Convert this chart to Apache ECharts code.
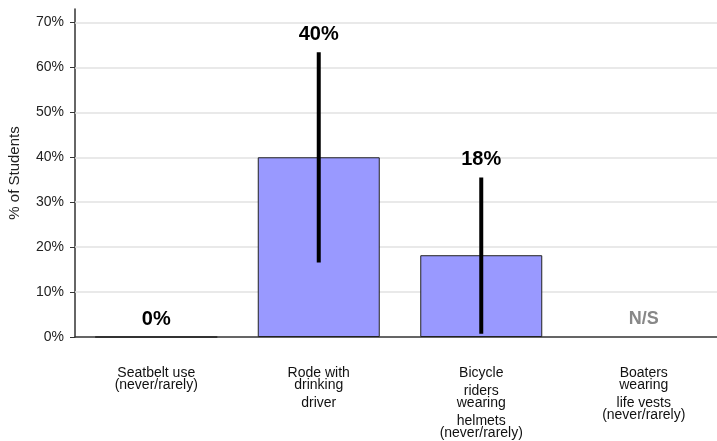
<!DOCTYPE html>
<html>
<head>
<meta charset="utf-8">
<script src="https://cdn.jsdelivr.net/npm/echarts@6/dist/echarts.min.js"></script>
<style>html,body{margin:0;padding:0;background:#fff}#c{width:717px;height:441px}</style>
</head>
<body>
<div id="c"></div>
<script>
const categories = [
  "Seatbelt use\n(never/rarely)",
  "Rode with\ndrinking\n\ndriver",
  "Bicycle\n\nriders\nwearing\n\nhelmets\n(never/rarely)",
  "Boaters\nwearing\n\nlife vests\n(never/rarely)"
];
const values = [0, 40, 18.2, null];
const errLow = [null, 16.6, 0.7, null];
const errHigh = [null, 63.4, 35.5, null];
const valueLabels = ["0%", "40%", "18%", "N/S"];
const yTicks = [0, 10, 20, 30, 40, 50, 60, 70];
const yMax = 73;

const FONT = "'Liberation Sans', Arial, sans-serif";
const chart = echarts.init(document.getElementById('c'), null, {renderer: 'canvas'});

const customData = categories.map((c, i) => [i, errLow[i], errHigh[i], values[i]]);

chart.setOption({
  animation: false,
  backgroundColor: '#fff',
  grid: {left: 75, top: 9, width: 650, height: 328, containLabel: false, outerBoundsMode: 'none'},
  xAxis: {
    type: 'category',
    data: categories,
    axisLine: {lineStyle: {color: '#333', width: 1.5}},
    axisTick: {show: false},
    axisLabel: {
      interval: 0,
      margin: 30,
      formatter: v => v.split('\n').map(l => l === '' ? '{g| }' : '{t|' + l + '}').join('\n'),
      rich: {
        t: {fontSize: 14, lineHeight: 12, fontFamily: FONT, color: '#111'},
        g: {fontSize: 6, lineHeight: 6}
      }
    }
  },
  yAxis: {
    type: 'value',
    min: 0, max: yMax, interval: 10,
    name: '% of Students',
    nameLocation: 'middle',
    nameGap: 53,
    nameRotate: 90,
    nameTextStyle: {fontSize: 15, fontFamily: FONT, color: '#222'},
    axisLine: {show: true, lineStyle: {color: '#333', width: 1.5}},
    axisTick: {show: true, length: 5, customValues: yTicks, lineStyle: {color: '#333'}},
    axisLabel: {customValues: yTicks, formatter: v => v + '%', fontSize: 14, fontFamily: FONT, color: '#222', margin: 11},
    splitLine: {show: false}
  },
  series: [
    {
      type: 'bar',
      data: values,
      barWidth: 122,
      z: 2,
      itemStyle: {color: '#9999ff', borderColor: '#222', borderWidth: 1},
      markLine: {
        silent: true,
        z: 1,
        symbol: ['none', 'none'],
        label: {show: false},
        lineStyle: {color: '#e2e2e2', width: 1.5, type: 'solid'},
        data: yTicks.slice(1).map(t => ({yAxis: t}))
      }
    },
    {
      type: 'custom',
      z: 5,
      data: customData,
      renderItem: (params, api) => {
        const i = api.value(0);
        const lo = api.value(1);
        const hi = api.value(2);
        const v = api.value(3);
        const children = [];
        let topVal = 0;
        if (!isNaN(lo) && !isNaN(hi) && lo !== null && hi !== null) {
          const p1 = api.coord([i, lo]);
          const p2 = api.coord([i, hi]);
          children.push({type: 'line', shape: {x1: p1[0], y1: p1[1], x2: p2[0], y2: p2[1]}, style: {stroke: '#000', lineWidth: 4}});
          topVal = hi;
        } else if (!isNaN(v) && v !== null) {
          topVal = v;
        }
        const pt = api.coord([i, topVal]);
        const lbl = valueLabels[params.dataIndex];
        const ns = lbl === 'N/S';
        children.push({type: 'text', style: {
          x: pt[0], y: pt[1] - 18, text: lbl,
          align: 'center', verticalAlign: 'middle',
          font: 'bold ' + (ns ? 18 : 20) + 'px ' + FONT,
          fill: ns ? '#888' : '#000'
        }});
        return {type: 'group', children};
      }
    }
  ]
});
</script>
</body>
</html>
